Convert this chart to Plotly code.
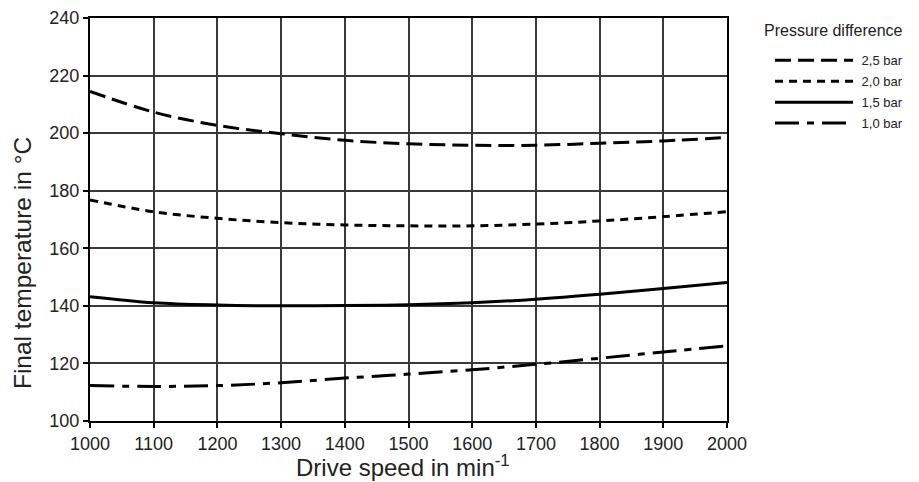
import plotly.graph_objects as go

speed = [1000, 1100, 1200, 1300, 1400, 1500, 1600, 1700, 1800, 1900, 2000]
t_25 = [214.5, 207.3, 202.7, 199.8, 197.5, 196.3, 195.8, 195.8, 196.5, 197.3, 198.5]
t_20 = [176.8, 172.7, 170.4, 168.9, 168.1, 167.8, 167.8, 168.4, 169.5, 171.0, 172.7]
t_15 = [143.2, 141.1, 140.3, 140.0, 140.1, 140.4, 141.1, 142.3, 144.0, 146.0, 148.1]
t_10 = [112.3, 112.0, 112.3, 113.3, 114.9, 116.3, 117.8, 119.7, 121.8, 124.0, 126.1]
labels = ["2,5 bar", "2,0 bar", "1,5 bar", "1,0 bar"]

FONT = "Liberation Sans, Arial, Helvetica, sans-serif"
series = [
    (labels[0], t_25, "16px,7px"),
    (labels[1], t_20, "8px,6px"),
    (labels[2], t_15, "solid"),
    (labels[3], t_10, "24px,8px,7px,8px"),
]

fig = go.Figure()
for i, (name, vals, dash) in enumerate(series):
    fig.add_trace(go.Scatter(
        x=speed, y=vals, name="\u00a0" + name, mode="lines",
        legendgroup=f"g{i}",
        line=dict(color="black", width=3, dash=dash, shape="spline", smoothing=1.0),
    ))

axis_common = dict(
    showgrid=True, gridcolor="#3a3a3a", gridwidth=1.5,
    showline=True, linecolor="black", linewidth=2, mirror=True,
    ticks="outside", ticklen=5, tickwidth=1.5, tickcolor="black",
    tickfont=dict(size=18, color="#222", family=FONT),
    zeroline=False, automargin=False, ticklabeloverflow="allow",
)

fig.update_xaxes(range=[1000, 2000], dtick=100, tick0=1000, **axis_common)
fig.update_yaxes(range=[100, 240], dtick=20, tick0=100, **axis_common)

# page body adds an 8px offset, so the figure is sized to the remaining window
fig.update_layout(
    width=911, height=474,
    margin=dict(l=82, r=192, t=10, b=61),
    paper_bgcolor="white", plot_bgcolor="white",
    font=dict(family=FONT, color="#222"),
    showlegend=True,
    legend=dict(
        x=1.0675, y=0.932, xanchor="left", yanchor="top",
        font=dict(size=13, color="#222", family=FONT),
        itemwidth=78, tracegroupgap=1, traceorder="grouped",
        bgcolor="rgba(0,0,0,0)",
    ),
    annotations=[
        dict(text="Pressure difference", x=1.055, y=0.970, xref="paper", yref="paper",
             xanchor="left", yanchor="middle", showarrow=False,
             font=dict(size=16, color="#222", family=FONT)),
        dict(text="Drive speed in min<sup>-1</sup>", x=0.4914, y=-0.1129, xref="paper", yref="paper",
             xanchor="center", yanchor="middle", showarrow=False,
             font=dict(size=24, color="#222", family=FONT)),
        dict(text="Final temperature in °C", x=-0.1067, y=0.392, xref="paper", yref="paper",
             xanchor="center", yanchor="middle", showarrow=False, textangle=-90,
             font=dict(size=24.5, color="#222", family=FONT)),
    ],
)

fig.write_html("out.html")
